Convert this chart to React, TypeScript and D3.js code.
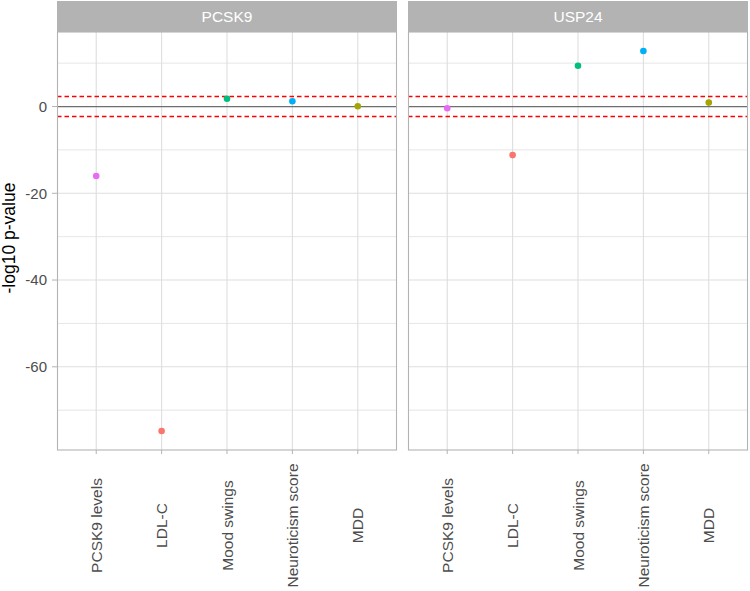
import React from "react";
import * as d3 from "d3";

const panels = ["PCSK9", "USP24"];
const categories = ["PCSK9 levels", "LDL-C", "Mood swings", "Neuroticism score", "MDD"];
const pcsk9Values = [-16.0, -74.8, 1.8, 1.2, 0.05];
const usp24Values = [-0.4, -11.2, 9.4, 12.8, 0.9];
const colorKeys = ["LDL-C", "MDD", "Mood swings", "Neuroticism score", "PCSK9 levels"];
const colorValues = ["#F8766D", "#A3A500", "#00BF7D", "#00B0F6", "#E76BF3"];
const yTicks = [0, -20, -40, -60];
const yMinor = [10, -10, -30, -50, -70];
const threshold = 2.3;

const W = 750;
const H = 591;
const panelX = [[57, 397], [408, 748]];
const stripTop = 1;
const panelTop = 32;
const panelBottom = 450;
const font = "'Liberation Sans', Arial, sans-serif";

export default function App() {
  const all = [...pcsk9Values, ...usp24Values];
  const mn = d3.min(all) as number;
  const mx = d3.max(all) as number;
  const pad = (mx - mn) * 0.05;
  const y = d3.scaleLinear().domain([mn - pad, mx + pad]).range([panelBottom, panelTop]);
  const color = d3.scaleOrdinal<string, string>().domain(colorKeys).range(colorValues);
  const seriesList = [pcsk9Values, usp24Values];

  return (
    <svg width={W} height={H} style={{ position: "absolute", left: 0, top: 0, background: "#fff" }} fontFamily={font}>
      {panels.map((p, pi) => {
        const [x0, x1] = panelX[pi];
        const step = (x1 - x0) / (categories.length - 1 + 1.2);
        const x = d3.scalePoint<string>().domain(categories).range([x0 + 0.6 * step, x1 - 0.6 * step]);
        const vals = seriesList[pi];
        return (
          <g key={p}>
            <rect x={x0} y={panelTop} width={x1 - x0} height={panelBottom - panelTop} fill="#fff" />
            {yMinor.map((t) => (
              <line key={"mi" + t} x1={x0} x2={x1} y1={y(t)} y2={y(t)} stroke="#E3E3E3" strokeWidth={0.9} />
            ))}
            {yTicks.map((t) => (
              <line key={"ma" + t} x1={x0} x2={x1} y1={y(t)} y2={y(t)} stroke="#DEDEDE" strokeWidth={1.1} />
            ))}
            {categories.map((c) => (
              <line key={"gx" + c} x1={x(c)} x2={x(c)} y1={panelTop} y2={panelBottom} stroke="#DEDEDE" strokeWidth={1.1} />
            ))}
            <line x1={x0} x2={x1} y1={y(0)} y2={y(0)} stroke="#6E6E6E" strokeWidth={1.3} />
            <line x1={x0} x2={x1} y1={y(threshold)} y2={y(threshold)} stroke="#FF0000" strokeWidth={1.4} strokeDasharray="4.5,3" />
            <line x1={x0} x2={x1} y1={y(-threshold)} y2={y(-threshold)} stroke="#FF0000" strokeWidth={1.4} strokeDasharray="4.5,3" />
            {categories.map((c, i) => (
              <circle key={"pt" + c} cx={x(c)} cy={y(vals[i])} r={3.3} fill={color(c)} />
            ))}
            <rect x={x0 + 0.5} y={panelTop} width={x1 - x0 - 1} height={panelBottom - panelTop} fill="none" stroke="#B3B3B3" strokeWidth={1.1} />
            <rect x={x0} y={stripTop} width={x1 - x0} height={panelTop - stripTop} fill="#B3B3B3" />
            <text x={(x0 + x1) / 2} y={(stripTop + panelTop) / 2} dy="0.36em" textAnchor="middle" fill="#FFFFFF" fontSize={15.5}>
              {p}
            </text>
            {categories.map((c) => (
              <g key={"xt" + c}>
                <line x1={x(c)} x2={x(c)} y1={panelBottom} y2={panelBottom + 4} stroke="#B3B3B3" strokeWidth={1} />
                <text
                  transform={`translate(${x(c)},525.5) rotate(-90)`}
                  textAnchor="middle"
                  dy="0.36em"
                  fill="#4D4D4D"
                  fontSize={15.5}
                >
                  {c}
                </text>
              </g>
            ))}
          </g>
        );
      })}
      {yTicks.map((t) => (
        <g key={"yt" + t}>
          <line x1={52} x2={57} y1={y(t)} y2={y(t)} stroke="#B3B3B3" strokeWidth={1} />
          <text x={47} y={y(t)} dy="0.36em" textAnchor="end" fill="#4D4D4D" fontSize={15}>
            {t}
          </text>
        </g>
      ))}
      <text transform={`translate(15,${238}) rotate(-90)`} textAnchor="middle" fill="#000" fontSize={17.5}>
        -log10 p-value
      </text>
    </svg>
  );
}
